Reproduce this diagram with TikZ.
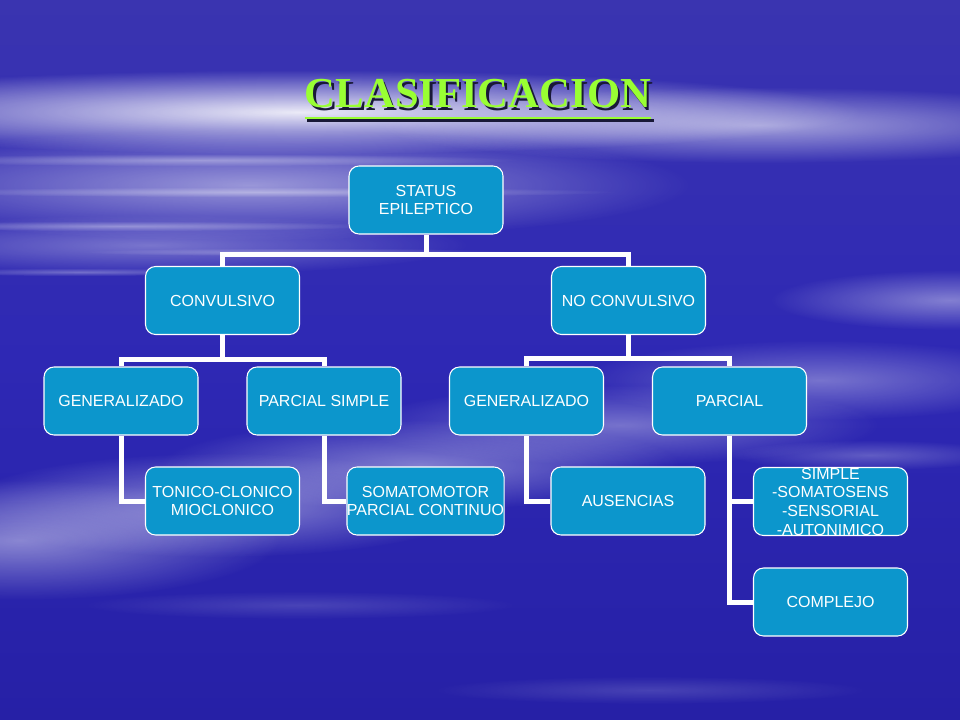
\documentclass[tikz,border=0pt]{standalone}
\usepackage{fontspec}
\setmainfont{Liberation Sans}
\newfontfamily\titlefont{Liberation Serif}
\usetikzlibrary{fadings}

\definecolor{bgtop}{RGB}{58,52,176}
\definecolor{bgmid}{RGB}{46,40,180}
\definecolor{bgbot}{RGB}{38,32,166}
\definecolor{boxfill}{RGB}{12,150,204}
\definecolor{titlegreen}{RGB}{153,255,51}
\definecolor{shadowc}{RGB}{25,25,55}

\tikzfading[name=softblob, inner color=transparent!0, outer color=transparent!100]

\pgfdeclarelayer{bglayer}
\pgfdeclarelayer{connlayer}
\pgfsetlayers{bglayer,connlayer,main}

\begin{document}
\begin{tikzpicture}[x=0.75pt,y=-0.75pt,
  box/.style={draw=white, line width=0.8pt, fill=boxfill, rounded corners=7.5pt,
    minimum width=115.5pt, minimum height=51pt, text=white,
    font=\fontsize{12}{14}\selectfont, align=center, inner sep=0pt},
  link/.style={draw=white, line width=3.75pt},
  cloud/.style={fill=white, path fading=softblob},
  titletext/.style={font=\titlefont\bfseries\fontsize{32}{36}\selectfont, anchor=base, inner sep=0pt}]
\useasboundingbox (0,0) rectangle (960,720);

% background
\begin{pgfonlayer}{bglayer}
\begin{scope}
\clip (0,0) rectangle (960,720);
\shade[top color=bgtop, bottom color=bgbot, middle color=bgmid] (0,0) rectangle (960,720);
\fill[cloud, opacity=0.9] (300,112) ellipse [x radius=560, y radius=42];
\fill[cloud, opacity=0.55] (760,125) ellipse [x radius=380, y radius=38];
\fill[cloud, opacity=0.5] (250,185) ellipse [x radius=440, y radius=55];
\fill[cloud, opacity=0.35] (150,245) ellipse [x radius=320, y radius=30];
\fill[cloud, opacity=0.35] (200,160) ellipse [x radius=320, y radius=6];
\fill[cloud, opacity=0.35] (260,192) ellipse [x radius=360, y radius=5];
\fill[cloud, opacity=0.35] (120,226) ellipse [x radius=260, y radius=5];
\fill[cloud, opacity=0.3] (300,252) ellipse [x radius=220, y radius=4];
\fill[cloud, opacity=0.3] (80,272) ellipse [x radius=160, y radius=4];
\fill[cloud, opacity=0.45] (20,540) ellipse [x radius=260, y radius=60];
\fill[cloud, opacity=0.45] (220,505) ellipse [x radius=260, y radius=52];
\fill[cloud, opacity=0.4] (420,465) ellipse [x radius=260, y radius=45];
\fill[cloud, opacity=0.35] (620,425) ellipse [x radius=260, y radius=40];
\fill[cloud, opacity=0.35] (820,380) ellipse [x radius=240, y radius=40];
\fill[cloud, opacity=0.4] (950,300) ellipse [x radius=180, y radius=30];
\fill[cloud, opacity=0.25] (870,455) ellipse [x radius=140, y radius=15];
\fill[cloud, opacity=0.15] (300,605) ellipse [x radius=220, y radius=14];
\fill[cloud, opacity=0.15] (650,690) ellipse [x radius=220, y radius=14];
\end{scope}
\end{pgfonlayer}

% title
\node[titletext, text=shadowc] (titleshadow) at (480.5,110.5) {CLASIFICACION};
\draw[shadowc, line width=2.2pt] ([yshift=-7.5pt]titleshadow.base west) -- ([yshift=-7.5pt]titleshadow.base east);
\node[titletext, text=titlegreen] (title) at (478,108) {CLASIFICACION};
\draw[titlegreen, line width=2.2pt] ([yshift=-7.5pt]title.base west) -- ([yshift=-7.5pt]title.base east);

% nodes
\node[box] (status) at (426,200) {STATUS\\EPILEPTICO};
\node[box] (conv) at (222.5,300.5) {CONVULSIVO};
\node[box] (noconv) at (628.5,300.5) {NO CONVULSIVO};
\node[box] (genL) at (121,401) {GENERALIZADO};
\node[box] (parS) at (324,401) {PARCIAL SIMPLE};
\node[box] (genR) at (526.5,401) {GENERALIZADO};
\node[box] (parc) at (729.5,401) {PARCIAL};
\node[box] (tonico) at (222.5,501) {TONICO-CLONICO\\MIOCLONICO};
\node[box] (soma) at (425.5,501) {SOMATOMOTOR\\PARCIAL CONTINUO};
\node[box] (aus) at (628,501) {AUSENCIAS};
\node[box] (simple) at (830.5,501.5) {SIMPLE\\-SOMATOSENS\\-SENSORIAL\\-AUTONIMICO};
\node[box] (complejo) at (830.5,602) {COMPLEJO};

% connectors (behind boxes)
\begin{pgfonlayer}{connlayer}
\draw[link] (status.south) -- ++(0,20) -| (conv.north);
\draw[link] (status.south) -- ++(0,20) -| (noconv.north);
\draw[link] (conv.south) -- ++(0,24) -| (genL.north);
\draw[link] (conv.south) -- ++(0,24) -| (parS.north);
\draw[link] (noconv.south) -- ++(0,23) -| (genR.north);
\draw[link] (noconv.south) -- ++(0,23) -| (parc.north);
\draw[link] (genL.south) |- (tonico.west);
\draw[link] (parS.south) |- (soma.west);
\draw[link] (genR.south) |- (aus.west);
\draw[link] (parc.south) |- (simple.west);
\draw[link] (parc.south) |- (complejo.west);
\end{pgfonlayer}
\end{tikzpicture}
\end{document}
